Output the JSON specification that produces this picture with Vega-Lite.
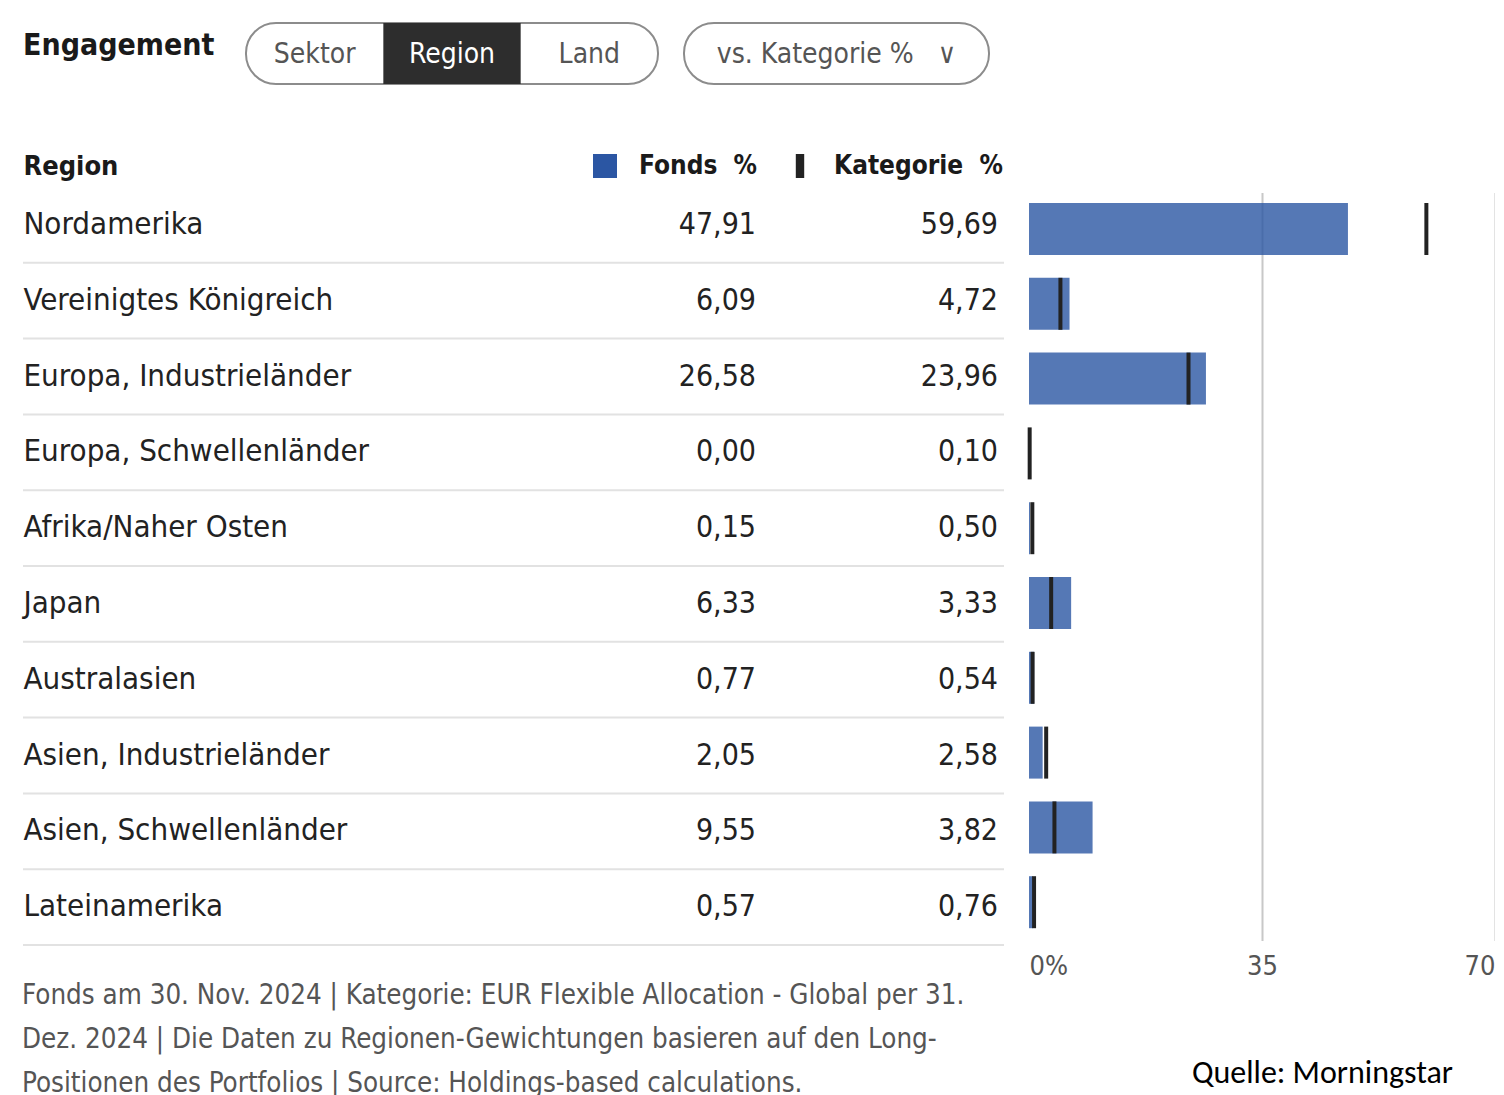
{
  "$schema": "https://vega.github.io/schema/vega-lite/v6.json",
  "background": "white",
  "padding": {"left": 22, "top": 22, "right": 0, "bottom": 0},
  "bounds": "flush",
  "spacing": 103,
  "config": {
    "locale": {"number": {"decimal": ",", "thousands": ".", "grouping": [3], "currency": ["", " €"]}},
    "view": {"stroke": null},
    "font": "DejaVu Sans Condensed, sans-serif"
  },
  "datasets": {
    "regions": [
      {"Region": "Nordamerika", "Fonds": 47.91, "Kategorie": 59.69},
      {"Region": "Vereinigtes Königreich", "Fonds": 6.09, "Kategorie": 4.72},
      {"Region": "Europa, Industrieländer", "Fonds": 26.58, "Kategorie": 23.96},
      {"Region": "Europa, Schwellenländer", "Fonds": 0.0, "Kategorie": 0.1},
      {"Region": "Afrika/Naher Osten", "Fonds": 0.15, "Kategorie": 0.5},
      {"Region": "Japan", "Fonds": 6.33, "Kategorie": 3.33},
      {"Region": "Australasien", "Fonds": 0.77, "Kategorie": 0.54},
      {"Region": "Asien, Industrieländer", "Fonds": 2.05, "Kategorie": 2.58},
      {"Region": "Asien, Schwellenländer", "Fonds": 9.55, "Kategorie": 3.82},
      {"Region": "Lateinamerika", "Fonds": 0.57, "Kategorie": 0.76}
    ],
    "buttons": [
      {"b": "Sektor", "sel": false},
      {"b": "Region", "sel": true},
      {"b": "Land", "sel": false}
    ]
  },
  "vconcat": [
    {
      "width": 981,
      "height": 61,
      "layer": [
        {
          "data": {"values": [{"t": "Engagement"}]},
          "mark": {"type": "text", "align": "left", "baseline": "middle", "fontSize": 30, "fontWeight": "bold", "color": "#1a1a1a", "dy": -8},
          "encoding": {
            "x": {"field": "t", "type": "nominal", "scale": {"type": "point", "range": [0, 0], "padding": 0}, "axis": null},
            "text": {"field": "t"}
          }
        },
        {
          "data": {"values": [{"g": "Sektor | Region | Land"}]},
          "mark": {"type": "rect", "fill": "white", "stroke": "#8c8c8c", "strokeWidth": 2, "cornerRadius": 30},
          "encoding": {
            "x": {"field": "g", "type": "nominal", "scale": {"range": [223, 635], "paddingInner": 0, "paddingOuter": 0}, "axis": null}
          }
        },
        {
          "data": {"name": "buttons"},
          "transform": [{"filter": "datum.sel"}],
          "mark": {"type": "rect", "fill": "#2d2d2d"},
          "encoding": {
            "x": {"field": "b", "type": "nominal", "scale": {"domain": ["Sektor", "Region", "Land"], "range": [223, 635], "paddingInner": 0, "paddingOuter": 0}, "axis": null}
          }
        },
        {
          "data": {"name": "buttons"},
          "mark": {"type": "text", "baseline": "middle", "fontSize": 28, "dy": 1},
          "encoding": {
            "x": {"field": "b", "type": "nominal", "scale": {"domain": ["Sektor", "Region", "Land"], "range": [223, 635], "paddingInner": 0, "paddingOuter": 0}, "axis": null},
            "text": {"field": "b"},
            "color": {"condition": {"test": "datum.sel", "value": "white"}, "value": "#555555"}
          }
        },
        {
          "data": {"values": [{"d": "vs. Kategorie %   ∨"}]},
          "mark": {"type": "rect", "fill": "white", "stroke": "#8c8c8c", "strokeWidth": 2, "cornerRadius": 30},
          "encoding": {
            "x": {"field": "d", "type": "nominal", "scale": {"range": [661, 966], "paddingInner": 0, "paddingOuter": 0}, "axis": null}
          }
        },
        {
          "data": {"values": [{"d": "vs. Kategorie %\u00a0\u00a0\u00a0∨"}]},
          "mark": {"type": "text", "baseline": "middle", "fontSize": 28, "color": "#555555", "dy": 1},
          "encoding": {
            "x": {"field": "d", "type": "nominal", "scale": {"range": [661, 966], "paddingInner": 0, "paddingOuter": 0}, "axis": null},
            "text": {"field": "d"}
          }
        }
      ],
      "resolve": {"scale": {"x": "independent"}}
    },
    {
      "bounds": "flush",
      "spacing": 25,
      "hconcat": [
        {
          "width": 981,
          "height": 758,
          "data": {"name": "regions"},
          "title": {
            "text": [
              "Fonds am 30. Nov. 2024 | Kategorie: EUR Flexible Allocation - Global per 31.",
              "Dez. 2024 | Die Daten zu Regionen-Gewichtungen basieren auf den Long-",
              "Positionen des Portfolios | Source: Holdings-based calculations."
            ],
            "orient": "bottom",
            "anchor": "start",
            "fontSize": 27.5,
            "fontWeight": "normal",
            "color": "#555555",
            "lineHeight": 44,
            "offset": 36,
            "baseline": "top"
          },
          "layer": [
            {
              "mark": {"type": "rule", "color": "#e2e2e2", "strokeWidth": 2},
              "encoding": {
                "y": {
                  "field": "Region", "type": "nominal", "bandPosition": 1,
                  "scale": {"domain": ["Nordamerika", "Vereinigtes Königreich", "Europa, Industrieländer", "Europa, Schwellenländer", "Afrika/Naher Osten", "Japan", "Australasien", "Asien, Industrieländer", "Asien, Schwellenländer", "Lateinamerika"], "paddingInner": 0, "paddingOuter": 0},
                  "axis": {
                    "orient": "left", "title": "Region", "titleAngle": 0, "titleAlign": "left", "titleBaseline": "middle",
                    "titleX": 0, "titleY": -21, "titleFontSize": 27, "titleFontWeight": "bold", "titleColor": "#1a1a1a",
                    "labelAlign": "left", "labelBaseline": "middle", "labelPadding": 0, "labelFontSize": 31, "labelColor": "#222222",
                    "labelLimit": 0, "labelOverlap": false, "ticks": false, "tickSize": 0, "domain": false, "grid": false
                  }
                }
              }
            },
            {
              "transform": [{"fold": ["Fonds", "Kategorie"], "as": ["key", "val"]}],
              "mark": {"type": "text", "align": "right", "baseline": "middle", "fontSize": 30, "color": "#222222"},
              "encoding": {
                "x": {"field": "key", "type": "nominal", "scale": {"type": "point", "domain": ["Fonds", "Kategorie"], "range": [733, 975], "padding": 0}, "axis": null},
                "y": {"field": "Region", "type": "nominal"},
                "text": {"field": "val", "type": "quantitative", "format": ".2f"}
              }
            }
          ]
        },
        {
          "width": 466,
          "height": 758,
          "data": {"name": "regions"},
          "title": {"text": "Quelle: Morningstar", "orient": "bottom", "anchor": "end", "font": "Carlito, Lato", "fontSize": 32, "fontWeight": "normal", "color": "#000000", "offset": 79, "dx": -42},
          "layer": [
            {
              "mark": {"type": "bar", "opacity": 0.8},
              "encoding": {
                "x": {
                  "field": "Fonds", "type": "quantitative", "scale": {"domain": [0, 70], "nice": false},
                  "axis": {
                    "title": null, "values": [0, 35, 70], "labelExpr": "datum.value === 0 ? '0%' : datum.label",
                    "labelFlush": true, "grid": true, "gridColor": "#c8c8c8", "gridWidth": 2,
                    "gridOpacity": {"condition": {"test": "datum.value === 0", "value": 0}, "value": 1},
                    "domain": false, "ticks": false, "tickSize": 0, "labelPadding": 8, "labelFontSize": 27,
                    "labelColor": "#555555", "labelBaseline": "top"
                  }
                },
                "y": {
                  "field": "Region", "type": "nominal",
                  "scale": {"domain": ["Nordamerika", "Vereinigtes Königreich", "Europa, Industrieländer", "Europa, Schwellenländer", "Afrika/Naher Osten", "Japan", "Australasien", "Asien, Industrieländer", "Asien, Schwellenländer", "Lateinamerika"], "range": [4.6, 752.6], "paddingInner": 0.305, "paddingOuter": 0.1525},
                  "axis": null
                },
                "color": {
                  "datum": "Fonds", "type": "nominal",
                  "scale": {"domain": ["Fonds", "Kategorie"], "range": ["#2b56a3", "#222222"]},
                  "legend": {
                    "orient": "none", "legendX": 569, "legendY": 130, "direction": "horizontal", "title": null,
                    "symbolSize": 576, "symbolType": "square", "symbolOpacity": 1, "symbolStrokeWidth": 0,
                    "labelExpr": "datum.label + '\u00a0\u00a0%'", "labelFontSize": 26, "labelFontWeight": "bold",
                    "labelColor": "#1a1a1a", "labelOffset": 21, "columnPadding": 29, "labelLimit": 0,
                    "encode": {"symbols": {"update": {"shape": {"signal": "datum.value === 'Kategorie' ? 'M-0.35,-1L0.35,-1L0.35,1L-0.35,1Z' : 'square'"}}}}
                  }
                }
              }
            },
            {
              "mark": {"type": "tick", "thickness": 4, "size": 52, "opacity": 1},
              "encoding": {
                "x": {"field": "Kategorie", "type": "quantitative", "axis": {"title": null}},
                "y": {"field": "Region", "type": "nominal"},
                "color": {"datum": "Kategorie", "type": "nominal"}
              }
            }
          ]
        }
      ]
    }
  ]
}
